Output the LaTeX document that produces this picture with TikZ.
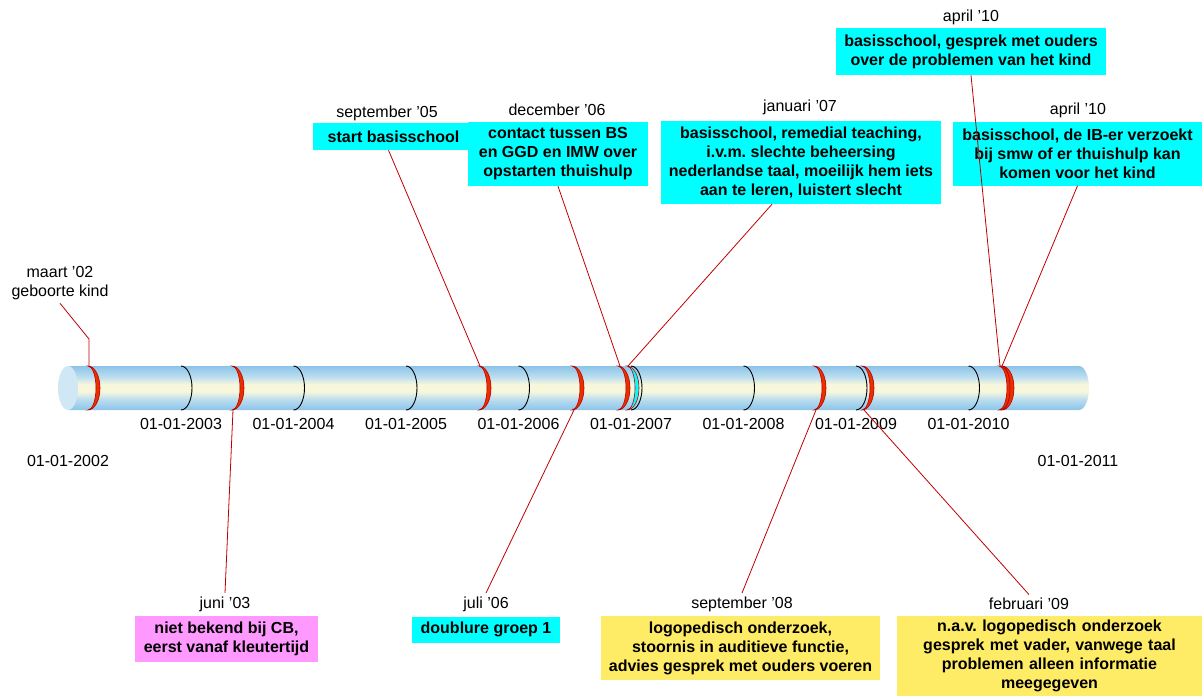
\documentclass[tikz,border=0pt]{standalone}
\usepackage{fontspec}
\setmainfont{Liberation Sans}
\usepackage{tikz}
\frenchspacing
\definecolor{tubeblue}{RGB}{140,196,232}
\definecolor{tubemid}{RGB}{186,221,240}
\definecolor{tubecream}{RGB}{248,247,220}
\definecolor{capblue}{RGB}{208,232,246}
\definecolor{ringred}{RGB}{232,48,0}
\definecolor{ringdark}{RGB}{185,0,0}
\definecolor{linered}{RGB}{192,0,0}
\definecolor{boxcyan}{RGB}{0,255,255}
\definecolor{boxpink}{RGB}{255,153,255}
\definecolor{boxyellow}{RGB}{255,236,102}
\pgfdeclareverticalshading{tube}{100bp}{color(0bp)=(tubeblue); color(25bp)=(tubeblue); color(37bp)=(tubemid); color(46bp)=(tubecream); color(54bp)=(tubecream); color(63bp)=(tubemid); color(75bp)=(tubeblue); color(100bp)=(tubeblue)}
\newcommand{\yearring}[1]{\draw[yring] (#1,366) arc (-90:90:11 and 22);}
\newcommand{\redring}[2][ringred]{\filldraw[rring, fill=#1] (#2,366) arc (-90:90:12 and 22) arc (90:-90:8 and 22) -- cycle;}

\begin{document}
\begin{tikzpicture}[x=1pt, y=-1pt,
    bnode/.style={fill=boxcyan, align=center, inner sep=0pt, font=\fontsize{16}{19}\selectfont\bfseries},
    dnode/.style={align=center, font=\fontsize{16}{19}\selectfont},
    yring/.style={draw=black, line width=0.9pt},
    rring/.style={draw=ringdark, line width=0.6pt},
    link/.style={draw=linered, line width=0.8pt}]
    \useasboundingbox (0,0) rectangle (1202,696);

    \shade[shading=tube]
        (68,366) -- (1079,366) arc (-90:90:10 and 22) -- (68,410) -- cycle;
    \fill[capblue] (68,388) ellipse (10 and 22);

    \foreach \x in {181,293.5,406,518.5,631,743.5,856,968.5} {\yearring{\x}}
    \foreach \x in {88,232,479,572,618,814,862,999,1002} {\redring{\x}}
    \redring[boxcyan]{627}

    \node[dnode] (y02) at (68,461) {01-01-2002};
    \node[dnode] (y03) at (181,424) {01-01-2003};
    \node[dnode] (y04) at (293.5,424) {01-01-2004};
    \node[dnode] (y05) at (406,424) {01-01-2005};
    \node[dnode] (y06) at (518.5,424) {01-01-2006};
    \node[dnode] (y07) at (631,424) {01-01-2007};
    \node[dnode] (y08) at (743.5,424) {01-01-2008};
    \node[dnode] (y09) at (856,424) {01-01-2009};
    \node[dnode] (y10) at (968.5,424) {01-01-2010};
    \node[dnode] (y11) at (1078,461) {01-01-2011};

    \coordinate (r02t) at (89,366);
    \coordinate (k02) at (89,339);
    \coordinate (r03b) at (233,410);
    \coordinate (r05t) at (480,366);
    \coordinate (r06b) at (574,410);
    \coordinate (r06t) at (620,366);
    \coordinate (r07t) at (628,366);
    \coordinate (r08b) at (816,410);
    \coordinate (r09b) at (864,410);
    \coordinate (r10at) at (1000,366);
    \coordinate (r10bt) at (1002,366);

    \node[dnode] (d02) at (60,283) {maart ’02\\geboorte kind};

    \node[dnode] (d05) at (387,113) {september ’05};
    \node[bnode, minimum width=161, minimum height=27] (b05) at (393.5,136.5) {start basisschool};
    \node[dnode] (d06) at (557,110) {december ’06};
    \node[bnode, minimum width=180, minimum height=64] (b06) at (558,154) {contact tussen BS\\en GGD en IMW over\\opstarten thuishulp};
    \node[dnode] (d07) at (800,107) {januari ’07};
    \node[bnode, minimum width=280, minimum height=83] (b07) at (801,162.5) {basisschool, remedial teaching,\\i.v.m. slechte beheersing\\nederlandse taal, moeilijk hem iets\\aan te leren, luistert slecht};
    \node[dnode] (d10a) at (971,17) {april ’10};
    \node[bnode, minimum width=270, minimum height=47] (b10a) at (971,51.5) {basisschool, gesprek met ouders\\over de problemen van het kind};
    \node[dnode] (d10b) at (1078,110) {april ’10};
    \node[bnode, minimum width=249, minimum height=64] (b10b) at (1077.5,153.5) {basisschool, de IB-er verzoekt\\bij smw of er thuishulp kan\\komen voor het kind};

    \node[dnode] (d03) at (225,604) {juni ’03};
    \node[bnode, fill=boxpink, minimum width=183, minimum height=46] (b03) at (226.5,638.5) {niet bekend bij CB,\\eerst vanaf kleutertijd};
    \node[dnode] (d06j) at (486,604) {juli ’06};
    \node[bnode, minimum width=148, minimum height=26] (b06j) at (486,629.5) {doublure groep 1};
    \node[dnode] (d08) at (742,604) {september ’08};
    \node[bnode, fill=boxyellow, minimum width=279, minimum height=64] (b08) at (740.5,648) {logopedisch onderzoek,\\stoornis in auditieve functie,\\advies gesprek met ouders voeren};
    \node[dnode] (d09) at (1029,604) {februari ’09};
    \node[bnode, fill=boxyellow, text width=305, minimum height=80] (b09) at (1049.5,656) {n.a.v. logopedisch onderzoek\hspace*{31pt}\\gesprek met vader, vanwege taal\hspace*{31pt}\\problemen alleen informatie\hspace*{31pt}\\meegegeven\hspace*{31pt}};

    \draw[link] (r02t) -- (k02) -- (d02.south);
    \draw[link] ([xshift=-5pt]b05.south) -- (r05t);
    \draw[link] (b06.south) -- (r06t);
    \draw[link] ([xshift=-29pt]b07.south) -- (r07t);
    \draw[link] (b10a.south) -- (r10at);
    \draw[link] (b10b.south) -- (r10bt);
    \draw[link] (r03b) -- (d03.north);
    \draw[link] (r06b) -- (d06j.north);
    \draw[link] (r08b) -- (d08.north);
    \draw[link] (r09b) -- (d09.north);
\end{tikzpicture}
\end{document}
